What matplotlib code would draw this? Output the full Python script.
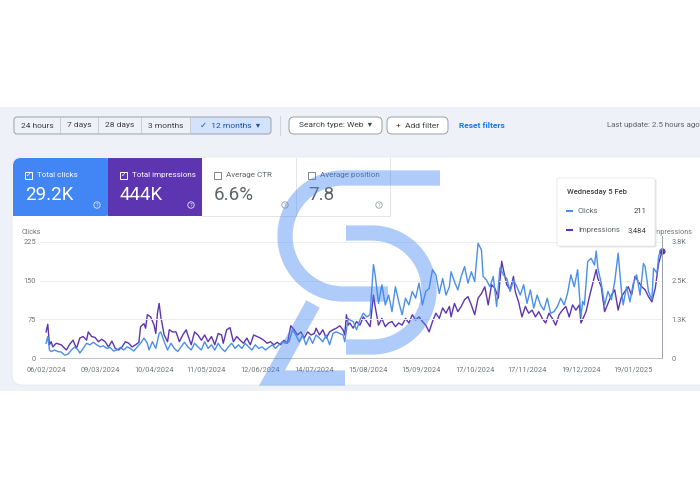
import numpy as np
import pandas as pd
import matplotlib
matplotlib.use("Agg")
import matplotlib.pyplot as plt
import matplotlib.dates as mdates
from matplotlib.patches import FancyBboxPatch, Rectangle, Circle

plt.rcParams['font.family'] = ['Roboto', 'DejaVu Sans']

# ---------------- data ----------------
START = pd.Timestamp('2024-02-06')

click_days = [0, 1, 2, 3, 5, 7, 9, 11, 13, 15,
              17, 19, 20, 22, 24, 26, 28, 30, 32, 34,
              36, 38, 40, 42, 44, 46, 48, 50, 52, 54,
              56, 58, 60, 61, 63, 65, 67, 68, 70, 72,
              74, 76, 78, 80, 82, 84, 86, 88, 90, 92,
              94, 96, 98, 100, 102, 104, 106, 108, 110, 112,
              114, 116, 118, 120, 122, 124, 126, 128, 130, 132,
              134, 136, 138, 140, 142, 144, 146, 148, 150, 152,
              154, 156, 158, 160, 162, 164, 166, 168, 170, 172,
              174, 176, 177, 179, 180, 182, 184, 186, 188, 190,
              192, 194, 195, 197, 199, 201, 203, 205, 207, 209,
              211, 213, 215, 217, 219, 221, 223, 225, 227, 229,
              231, 233, 235, 237, 239, 240, 242, 244, 246, 248,
              250, 252, 254, 256, 258, 259, 261, 263, 265, 267,
              269, 271, 273, 275, 277, 279, 281, 283, 285, 287,
              289, 291, 293, 295, 297, 299, 301, 303, 305, 307,
              309, 311, 313, 315, 317, 318, 319, 321, 323, 325,
              326, 327, 329, 331, 333, 335, 337, 339, 341, 342,
              344, 346, 348, 350, 352, 354, 355, 357, 359, 360,
              362, 363, 364, 365]
clicks = [29, 42, 16, 13, 16, 13, 12, 6, 8, 16,
          22, 16, 10, 19, 29, 26, 31, 26, 22, 24,
          19, 21, 14, 16, 21, 16, 22, 19, 14, 22,
          29, 39, 29, 16, 32, 19, 48, 51, 32, 16,
          29, 19, 13, 22, 31, 22, 16, 29, 22, 16,
          32, 19, 26, 16, 29, 19, 13, 22, 29, 19,
          26, 19, 29, 22, 16, 26, 19, 22, 16, 21,
          26, 19, 26, 32, 29, 32, 55, 45, 32, 45,
          26, 42, 29, 45, 39, 32, 45, 26, 48, 51,
          48, 45, 32, 77, 74, 71, 55, 74, 87, 80,
          84, 181, 161, 106, 142, 103, 122, 90, 138, 109,
          84, 116, 103, 129, 116, 145, 103, 129, 135, 171,
          161, 125, 154, 122, 138, 167, 148, 132, 158, 177,
          145, 167, 148, 222, 209, 158, 151, 138, 158, 100,
          175, 161, 154, 129, 151, 138, 122, 142, 106, 132,
          97, 122, 103, 93, 116, 87, 90, 100, 116, 103,
          125, 161, 138, 171, 80, 110, 103, 187, 193, 180,
          207, 174, 145, 103, 129, 113, 148, 203, 129, 103,
          138, 109, 145, 161, 122, 183, 177, 129, 113, 174,
          164, 196, 209, 211]

imp_days = [0, 1, 2, 3, 4, 6, 9, 12, 14, 16,
            18, 20, 22, 24, 25, 27, 29, 31, 33, 35,
            37, 39, 41, 43, 45, 47, 49, 51, 53, 55,
            56, 58, 59, 60, 62, 64, 65, 66, 67, 68,
            70, 72, 73, 75, 77, 79, 81, 83, 84, 86,
            88, 90, 92, 94, 96, 98, 100, 102, 104, 105,
            107, 109, 111, 113, 115, 117, 119, 121, 123, 125,
            127, 129, 131, 133, 135, 137, 139, 141, 143, 145,
            147, 149, 151, 153, 155, 157, 159, 160, 162, 164,
            166, 168, 170, 172, 174, 176, 177, 178, 179, 180,
            182, 184, 186, 188, 190, 192, 194, 195, 197, 199,
            201, 203, 205, 207, 209, 211, 213, 215, 217, 219,
            221, 223, 225, 227, 229, 231, 233, 235, 237, 239,
            240, 242, 244, 246, 248, 250, 252, 254, 256, 258,
            260, 262, 264, 266, 268, 270, 271, 273, 275, 277,
            278, 280, 282, 284, 286, 288, 290, 292, 294, 296,
            298, 300, 302, 304, 306, 308, 310, 312, 314, 316,
            317, 320, 322, 324, 326, 327, 329, 331, 333, 335,
            337, 339, 341, 343, 345, 347, 349, 351, 353, 355,
            357, 359, 361, 363, 365]
impressions = [860, 1110, 440, 540, 370, 490, 440, 270, 460, 590,
               320, 660, 710, 590, 860, 710, 680, 540, 620, 540,
               370, 560, 320, 270, 370, 540, 490, 370, 440, 520,
               1030, 1130, 980, 1420, 1350, 1080, 810, 1470, 1790, 1350,
               760, 540, 930, 860, 860, 540, 760, 930, 760, 440,
               860, 760, 590, 760, 540, 710, 440, 810, 760, 490,
               930, 1000, 540, 710, 590, 490, 660, 440, 760, 710,
               660, 590, 490, 540, 440, 520, 440, 590, 490, 1060,
               930, 760, 860, 660, 860, 760, 810, 980, 760, 930,
               660, 860, 930, 980, 1060, 930, 760, 1420, 1080, 1150,
               980, 1200, 1080, 1350, 1200, 1030, 2060, 1690, 1080, 1300,
               1030, 1150, 1200, 1030, 1150, 1080, 1300, 1150, 1420, 1250,
               1350, 1200, 1080, 860, 1200, 1470, 1300, 1640, 1470, 1690,
               1350, 1790, 1520, 1690, 1910, 2010, 1740, 1420, 1960, 2110,
               2330, 1740, 2400, 2280, 1960, 3160, 2890, 2400, 2230, 2670,
               2180, 1840, 1350, 1690, 1470, 1570, 1350, 1520, 1300, 1150,
               1470, 1300, 1080, 1420, 1570, 1690, 1350, 1740, 1570, 1740,
               1150, 1520, 2010, 2450, 2890, 2600, 2330, 1520, 1790, 2060,
               2230, 1570, 2010, 2180, 2330, 2060, 2670, 2500, 2330, 2230,
               2010, 1840, 2280, 3090, 3484]

tick_dates = ['2024-02-06', '2024-03-09', '2024-04-10', '2024-05-11', '2024-06-12',
              '2024-07-14', '2024-08-15', '2024-09-15', '2024-10-17', '2024-11-17',
              '2024-12-19', '2025-01-19']
left_ticks = [0, 75, 150, 225]
right_ticks = [0, 3800 / 3, 2 * 3800 / 3, 3800]
right_labels = ['0', '1.3K', '2.5K', '3.8K']

ranges = ['24 hours', '7 days', '28 days', '3 months', '\u2713  12 months  \u25be']
range_edges = [14, 60, 98, 141, 190, 271]
card_titles = ['Total clicks', 'Total impressions', 'Average CTR', 'Average position']
card_values = ['29.2K', '444K', '6.6%', '7.8']

CLICK_C = '#4a8fe8'
IMP_C = '#5e35b1'
BAND = '#eef2f8'
GREY = '#70757a'

# ---------------- figure / page chrome ----------------
fig = plt.figure(figsize=(7, 5), dpi=100)
bg = fig.add_axes([0, 0, 1, 1], zorder=0)
bg.set_xlim(0, 700); bg.set_ylim(500, 0); bg.axis('off')

bg.add_patch(Rectangle((0, 107), 700, 284, fc=BAND, ec='none'))
bg.add_patch(FancyBboxPatch((12, 157), 700, 228, boxstyle='round,pad=0,rounding_size=10',
                            fc='white', ec='#e6e8ec', lw=0.6))

# range selector
bg.add_patch(FancyBboxPatch((190, 117), 81, 17, boxstyle='round,pad=0,rounding_size=3',
                            fc='#d3e3fd', ec='none'))
bg.add_patch(Rectangle((190, 117), 6, 17, fc='#d3e3fd', ec='none'))
bg.add_patch(FancyBboxPatch((14, 117), 257, 17, boxstyle='round,pad=0,rounding_size=3',
                            fc='none', ec='#9aa0a6', lw=0.7))
for x in range_edges[1:-1]:
    bg.plot([x, x], [117, 134], color='#c4c7cc', lw=0.6)
for lab, a, b in zip(ranges, range_edges[:-1], range_edges[1:]):
    bg.text((a + b) / 2, 125.5, lab, ha='center', va='center', fontsize=6,
            color='#174ea6' if lab.startswith('\u2713') else '#3c4043')
bg.plot([280, 280], [116, 135], color='#d0d3d8', lw=0.7)
bg.add_patch(FancyBboxPatch((289, 117), 93, 17, boxstyle='round,pad=0,rounding_size=5',
                            fc='white', ec='#9aa0a6', lw=0.7))
bg.text(335.5, 125.5, 'Search type: Web  \u25be', ha='center', va='center', fontsize=6, color='#3c4043')
bg.add_patch(FancyBboxPatch((387, 117), 61, 17, boxstyle='round,pad=0,rounding_size=5',
                            fc='white', ec='#9aa0a6', lw=0.7))
bg.text(417.5, 125.5, '+  Add filter', ha='center', va='center', fontsize=6, color='#3c4043')
bg.text(459, 125.5, 'Reset filters', ha='left', va='center', fontsize=6, color='#1a73e8',
        fontweight='bold')
bg.text(607, 125.5, 'Last update: 2.5 hours ago', ha='left', va='center', fontsize=5.7,
        color='#5f6368')

# metric cards
card_x = [13, 108, 202, 296, 390]
card_fc = ['#4285f4', IMP_C, 'white', 'white']
bg.add_patch(FancyBboxPatch((13, 158), 100, 58, boxstyle='round,pad=0,rounding_size=8',
                            fc=card_fc[0], ec='none'))
bg.add_patch(Rectangle((13, 200), 30, 16, fc=card_fc[0], ec='none'))
for i in range(4):
    x0, x1 = card_x[i], card_x[i + 1]
    if i > 0:
        bg.add_patch(Rectangle((x0, 158), x1 - x0, 58, fc=card_fc[i], ec='none'))
    dark = i < 2
    tc = 'white' if dark else '#5f6368'
    bg.add_patch(Rectangle((x0 + 12, 171.5), 7, 7, fc='none',
                           ec='white' if dark else '#80868b', lw=0.7))
    if dark:
        bg.text(x0 + 15.5, 175.3, '\u2713', ha='center', va='center', fontsize=5, color='white')
    bg.text(x0 + 24, 175, card_titles[i], ha='left', va='center', fontsize=5.8, color=tc)
    bg.text(x0 + 12, 195, card_values[i], ha='left', va='center', fontsize=13.5,
            color='white' if dark else '#5f6368')
    bg.add_patch(Circle((x1 - 11, 205), 3.2, fc='none',
                        ec='#dfe6fb' if dark else '#9aa0a6', lw=0.6))
    bg.text(x1 - 11, 205.3, '?', ha='center', va='center', fontsize=4,
            color='#dfe6fb' if dark else '#9aa0a6')
bg.plot([296, 296], [158, 216], color='#e3e5e8', lw=0.7)
bg.plot([390, 390], [158, 216], color='#e3e5e8', lw=0.7)
bg.plot([202, 390], [216, 216], color='#e3e5e8', lw=0.7)

bg.text(22, 233, 'Clicks', ha='left', va='center', fontsize=5.2, color=GREY)
bg.text(652, 233, 'Impressions', ha='left', va='center', fontsize=5.2, color=GREY)

# ---------------- the chart ----------------
x0px, x1px, ytop, ybot = 40, 662, 241.7, 358.3
ax = fig.add_axes([x0px / 700, (500 - ybot) / 500, (x1px - x0px) / 700, (ybot - ytop) / 500])
ax2 = ax.twinx()
ax.set_zorder(ax2.get_zorder() + 1)
ax.patch.set_visible(False)

cd = START + pd.to_timedelta(click_days, unit='D')
idt = START + pd.to_timedelta(imp_days, unit='D')
end = START + pd.Timedelta(days=365)

ax2.plot(idt, impressions, color=IMP_C, lw=1.0, clip_on=False)
ax.plot(cd, clicks, color=CLICK_C, lw=1.0, clip_on=False)
ax2.plot([end], [impressions[-1]], 'o', color=IMP_C, ms=3.5, clip_on=False)
ax.axvline(end, color='#9aa0a6', lw=0.7, ymax=1.05, clip_on=False)

ax.set_xlim(START - pd.Timedelta(days=3.6), end)
ax.set_ylim(0, 225)
ax2.set_ylim(0, 3800)
ax.set_yticks(left_ticks)
ax2.set_yticks(right_ticks)
ax2.set_yticklabels(right_labels)
ax.set_xticks(pd.to_datetime(tick_dates))
ax.xaxis.set_major_formatter(mdates.DateFormatter('%d/%m/%Y'))
ax.yaxis.grid(True, color='#eceef1', lw=0.7)
ax.set_axisbelow(True)
for a in (ax, ax2):
    for s in a.spines.values():
        s.set_visible(False)
ax.spines['bottom'].set_visible(True)
ax.spines['bottom'].set_color('#bdc1c6')
ax.spines['bottom'].set_linewidth(0.7)
ax.tick_params(axis='x', length=0, pad=6, labelsize=5.3, labelcolor=GREY)
ax.tick_params(axis='y', length=0, pad=3, labelsize=5.3, labelcolor=GREY)
ax2.tick_params(axis='y', length=0, pad=7, labelsize=5.3, labelcolor=GREY)

# ---------------- overlay: tooltip + watermark ----------------
ov = fig.add_axes([0, 0, 1, 1], zorder=10)
ov.set_xlim(0, 700); ov.set_ylim(500, 0); ov.axis('off'); ov.patch.set_visible(False)

ov.add_patch(FancyBboxPatch((558.5, 179.5), 98, 68, boxstyle='round,pad=0,rounding_size=2',
                            fc='#e4e6ea', ec='none'))
ov.add_patch(FancyBboxPatch((557, 178), 98, 68, boxstyle='round,pad=0,rounding_size=2',
                            fc='white', ec='#e0e2e6', lw=0.5))
ov.text(567, 192, 'Wednesday 5 Feb', ha='left', va='center', fontsize=5.5, color='#3c4043',
        fontweight='medium')
for yy, col, lab, val in [(211, CLICK_C, 'Clicks', '211'), (230, IMP_C, 'Impressions', '3,484')]:
    ov.plot([567, 572], [yy, yy], color=col, lw=1.5)
    ov.text(578, yy, lab, ha='left', va='center', fontsize=5.5, color='#5f6368')
    ov.text(646, yy, val, ha='right', va='center', fontsize=5.5, color='#3c4043')

wm = dict(color='#4285f4', alpha=0.42, lw=11, solid_capstyle='butt', solid_joinstyle='miter')
t = np.linspace(np.pi / 2, 3 * np.pi / 2, 60)
ov.plot(np.r_[440, 343 + 58 * np.cos(t), 388], np.r_[178, 236 - 58 * np.sin(t), 294], **wm)
t = np.linspace(np.pi / 2, -np.pi / 2, 60)
ov.plot(np.r_[346, 372 + 57 * np.cos(t), 346], np.r_[233, 290 - 57 * np.sin(t), 347], **wm)
ov.plot([313, 272, 345], [304, 378, 378], **wm)

fig.savefig('out.png', dpi=100)
